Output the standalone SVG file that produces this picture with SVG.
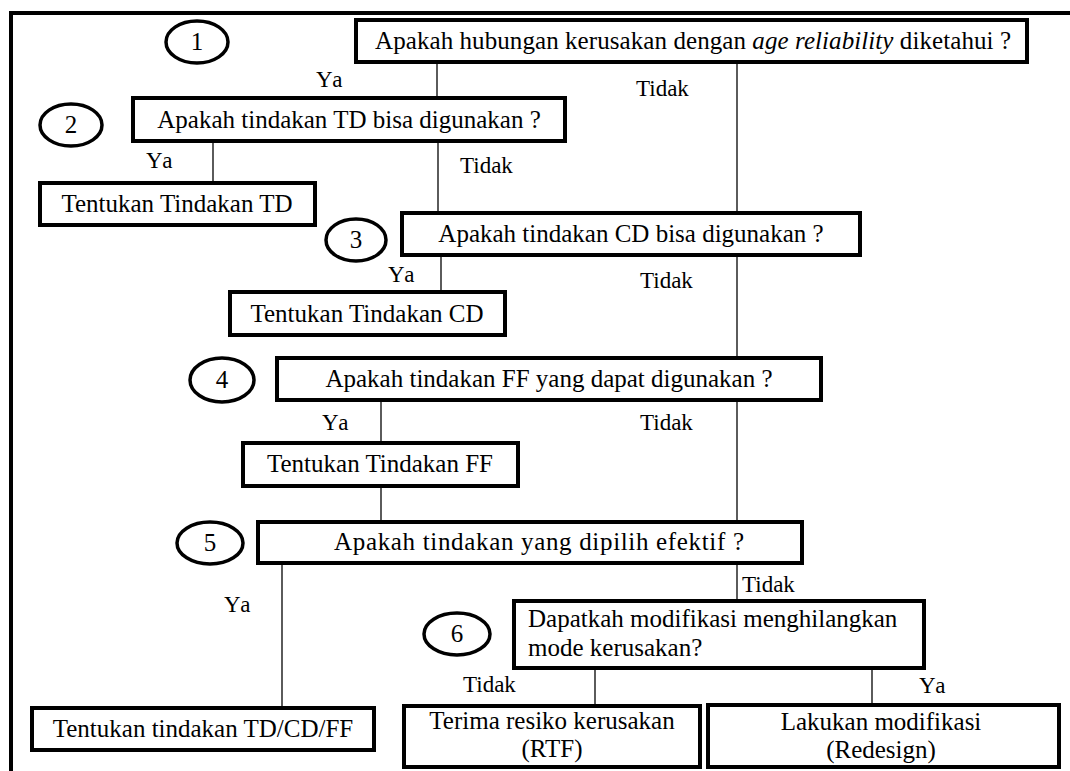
<svg xmlns="http://www.w3.org/2000/svg" width="1070" height="771" viewBox="0 0 1070 771">
<style>
.box{fill:#fff;stroke:#000;stroke-width:4}
.num{fill:#fff;stroke:#000;stroke-width:3.5}
.t{font-family:'Liberation Serif','Times New Roman','DejaVu Serif',serif;font-size:25px;fill:#000}
.c{text-anchor:middle}
.lbl{font-family:'Liberation Serif','Times New Roman','DejaVu Serif',serif;font-size:23px;fill:#000}
.ya{letter-spacing:2px}
.conn line{stroke:#333;stroke-width:1.6}
</style>
<rect width="1070" height="771" fill="#fff"/>
<g id="frame">
<line x1="9" y1="13" x2="1070" y2="13" stroke="#000" stroke-width="4"/>
<line x1="11" y1="11" x2="11" y2="771" stroke="#000" stroke-width="4"/>
</g>
<g class="conn" id="connectors">
<line x1="437" y1="62" x2="437" y2="98"/>
<line x1="737" y1="62" x2="737" y2="213"/>
<line x1="213" y1="141" x2="213" y2="183"/>
<line x1="438" y1="141" x2="438" y2="213"/>
<line x1="441" y1="255" x2="441" y2="292"/>
<line x1="737" y1="255" x2="737" y2="358"/>
<line x1="381" y1="400" x2="381" y2="443"/>
<line x1="737" y1="400" x2="737" y2="522"/>
<line x1="381" y1="486" x2="381" y2="522"/>
<line x1="282" y1="563" x2="282" y2="708"/>
<line x1="737" y1="563" x2="737" y2="601"/>
<line x1="595" y1="668" x2="595" y2="706"/>
<line x1="872" y1="668" x2="872" y2="705"/>
</g>
<g id="labels">
<text class="lbl ya" x="316" y="87">Ya</text>
<text class="lbl" x="636" y="96">Tidak</text>
<text class="lbl ya" x="146" y="168">Ya</text>
<text class="lbl" x="460" y="173">Tidak</text>
<text class="lbl ya" x="388" y="282">Ya</text>
<text class="lbl" x="640" y="288">Tidak</text>
<text class="lbl ya" x="322" y="430">Ya</text>
<text class="lbl" x="640" y="430">Tidak</text>
<text class="lbl ya" x="224" y="612">Ya</text>
<text class="lbl" x="742" y="592">Tidak</text>
<text class="lbl" x="463" y="692">Tidak</text>
<text class="lbl ya" x="919" y="693">Ya</text>
</g>
<g id="n1">
<ellipse class="num" cx="197" cy="42" rx="31" ry="21"/>
<text class="t c" x="197" y="50">1</text>
</g>
<g id="q1">
<rect class="box" x="356" y="20" width="671" height="42"/>
<text class="t" x="375" y="49" textLength="636">Apakah hubungan kerusakan dengan <tspan font-style="italic">age reliability</tspan>  diketahui ?</text>
</g>
<g id="n2">
<ellipse class="num" cx="71" cy="125" rx="31" ry="21"/>
<text class="t c" x="71" y="133">2</text>
</g>
<g id="q2">
<rect class="box" x="133" y="98" width="432" height="43"/>
<text class="t c" x="349" y="128">Apakah tindakan TD bisa digunakan ?</text>
</g>
<g id="aTD">
<rect class="box" x="40" y="183" width="275" height="42"/>
<text class="t c" x="177" y="212">Tentukan Tindakan TD</text>
</g>
<g id="n3">
<ellipse class="num" cx="356" cy="240" rx="30" ry="21"/>
<text class="t c" x="356" y="248">3</text>
</g>
<g id="q3">
<rect class="box" x="402" y="213" width="458" height="42"/>
<text class="t c" x="631" y="242">Apakah tindakan CD bisa digunakan ?</text>
</g>
<g id="aCD">
<rect class="box" x="230" y="292" width="275" height="43"/>
<text class="t c" x="367" y="322">Tentukan Tindakan CD</text>
</g>
<g id="n4">
<ellipse class="num" cx="222" cy="380" rx="32" ry="22"/>
<text class="t c" x="222" y="388">4</text>
</g>
<g id="q4">
<rect class="box" x="277" y="358" width="544" height="42"/>
<text class="t c" x="549" y="387">Apakah tindakan FF yang dapat digunakan ?</text>
</g>
<g id="aFF">
<rect class="box" x="243" y="443" width="275" height="43"/>
<text class="t c" x="380" y="472">Tentukan Tindakan FF</text>
</g>
<g id="n5">
<ellipse class="num" cx="210" cy="543" rx="33" ry="21"/>
<text class="t c" x="210" y="551">5</text>
</g>
<g id="q5">
<rect class="box" x="258" y="522" width="544" height="41"/>
<text class="t" x="334" y="550" textLength="410">Apakah tindakan  yang dipilih efektif ?</text>
</g>
<g id="aTDCDFF">
<rect class="box" x="32" y="708" width="342" height="42"/>
<text class="t c" x="203" y="737">Tentukan tindakan TD/CD/FF</text>
</g>
<g id="n6">
<ellipse class="num" cx="457" cy="634" rx="33" ry="21"/>
<text class="t c" x="457" y="642">6</text>
</g>
<g id="q6">
<rect class="box" x="514" y="601" width="410" height="67"/>
<text class="t" x="528" y="627">Dapatkah modifikasi menghilangkan</text>
<text class="t" x="528" y="656">mode kerusakan?</text>
</g>
<g id="aRTF">
<rect class="box" x="404" y="706" width="296" height="61"/>
<text class="t c" x="552" y="729">Terima resiko kerusakan</text>
<text class="t c" x="552" y="757">(RTF)</text>
</g>
<g id="aRedesign">
<rect class="box" x="708" y="705" width="351" height="62"/>
<text class="t c" x="881" y="730">Lakukan modifikasi</text>
<text class="t c" x="881" y="758">(Redesign)</text>
</g>
</svg>
